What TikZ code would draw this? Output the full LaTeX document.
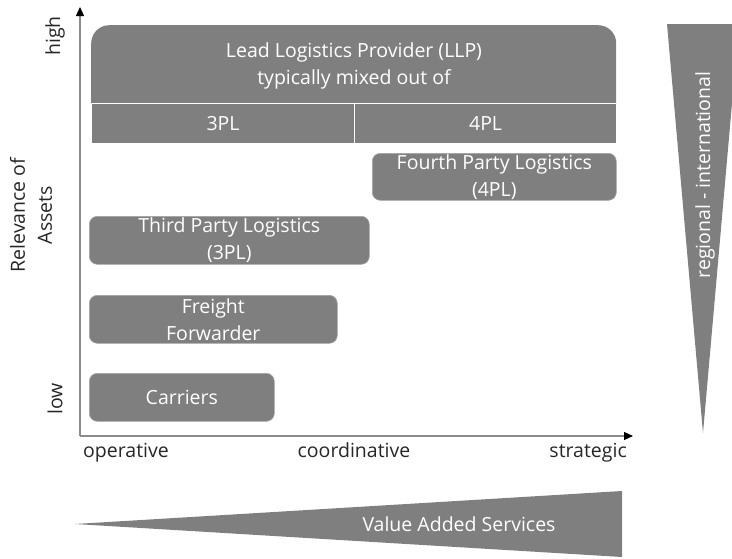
\documentclass[tikz,border=0pt]{standalone}
\usepackage{fontspec}
\setmainfont{Open Sans}
\usetikzlibrary{arrows.meta}
\definecolor{boxgray}{HTML}{7F7F7F}
\definecolor{axisgray}{HTML}{8C8C8C}
\definecolor{labeltext}{HTML}{262626}
\begin{document}
\begin{tikzpicture}[x=1pt,y=-1pt,
  lbl/.style={font=\fontsize{19.5}{27}\selectfont, align=center, inner sep=0pt},
  boxtext/.style={lbl, text=white},
  pbox/.style={boxtext, fill=boxgray, draw=boxgray!70!white, line width=0.6pt, rounded corners=8pt, anchor=north west},
  cell/.style={boxtext, fill=boxgray, draw=white, line width=1.2pt, minimum height=40pt, anchor=north west},
  axis/.style={draw=axisgray, line width=1.1pt, -{Triangle[length=9pt,width=8pt,color=black]}},
  axlabel/.style={lbl, text=labeltext},
  tri/.style={fill=boxgray}]
\useasboundingbox (0,0) rectangle (732,558);
% LLP block
\node[fill=boxgray, rounded corners=18pt, minimum width=525pt, minimum height=100pt, anchor=north west, inner sep=0pt] (llpbox) at (91,25) {};
\node[boxtext] (llp) at (354,66) {Lead Logistics Provider (LLP)\\typically mixed out of};
\node[cell, minimum width=263pt] (c3) at (91,103) {3PL};
\node[cell, minimum width=262pt] (c4) at (354,103) {4PL};
% provider boxes
\node[pbox, minimum width=244pt, minimum height=47pt] (fpl) at (372,153) {Fourth Party Logistics\\(4PL)};
\node[pbox, minimum width=280pt, minimum height=48pt] (tpl) at (89,216) {Third Party Logistics\\(3PL)};
\node[pbox, minimum width=248pt, minimum height=48pt] (ff) at (89,295) {Freight\\Forwarder};
\node[pbox, minimum width=185pt, minimum height=48pt] (car) at (89,373) {Carriers};
% axes
\coordinate (o) at (80,436);
\coordinate (ytip) at (80,7);
\coordinate (xtip) at (633,436);
\draw[axis] (o) -- (ytip);
\draw[axis] (o) -- (xtip);
\node[axlabel, anchor=base] (op) at (126,457) {operative};
\node[axlabel, anchor=base] (co) at (354,457) {coordinative};
\node[axlabel, anchor=base east] (st) at (627,457) {strategic};
\node[axlabel, rotate=90] (hi) at (55,36) {high};
\node[axlabel, rotate=90] (lo) at (55,399) {low};
\node[axlabel, rotate=90] (rel) at (31,215) {Relevance of\\Assets};
% wedges
\fill[tri] (667,24) -- (739,24) -- (703,433) -- cycle;
\node[boxtext, rotate=90] (reg) at (705,175) {regional - international};
\fill[tri] (75,524) -- (622,491) -- (622,557) -- cycle;
\node[boxtext] (vas) at (459,524) {Value Added Services};
\end{tikzpicture}
\end{document}
